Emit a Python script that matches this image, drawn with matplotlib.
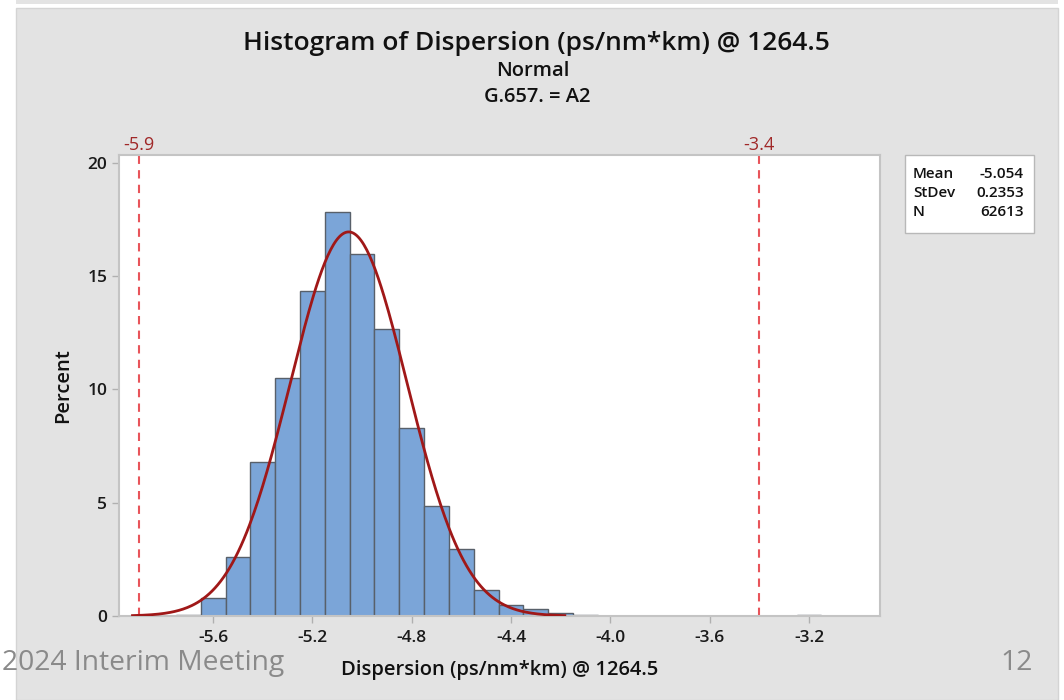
import numpy as np
import matplotlib
matplotlib.use("Agg")
import matplotlib.pyplot as plt
from matplotlib.patches import Rectangle

# histogram bins (centers, width 0.1) and percent of fibers in each bin
bin_centers = [-5.7, -5.6, -5.5, -5.4, -5.3, -5.2, -5.1, -5.0, -4.9, -4.8,
               -4.7, -4.6, -4.5, -4.4, -4.3, -4.2, -4.1, -4.0, -3.2]
percent = [0.05, 0.8, 2.6, 6.8, 10.5, 14.35, 17.85, 16.0, 12.65, 8.3,
           4.85, 2.95, 1.15, 0.5, 0.3, 0.12, 0.05, 0.02, 0.03]
bin_width = 0.1

mean = -5.054
stdev = 0.2353
n_obs = 62613
spec_limits = [-5.9, -3.4]

x_ticks = [-5.6, -5.2, -4.8, -4.4, -4.0, -3.6, -3.2]
y_ticks = [0, 5, 10, 15, 20]

plt.rcParams['font.family'] = ['Open Sans', 'DejaVu Sans']

W, H = 1064, 700
fig = plt.figure(figsize=(W / 100, H / 100), dpi=100, facecolor='white')

# slide background panels
fig.patches.append(Rectangle((16 / W, 0), (1058 - 16) / W, (700 - 8) / H,
                             transform=fig.transFigure, facecolor='#e3e3e3',
                             edgecolor='#d4d4d4', lw=1, zorder=-10))
fig.patches.append(Rectangle((16 / W, (700 - 4) / H), (1058 - 16) / W, 4 / H,
                             transform=fig.transFigure, facecolor='#e3e3e3',
                             edgecolor='none', zorder=-10))

left, right, top, bottom = 119, 880, 155, 616
ax = fig.add_axes([left / W, (H - bottom) / H, (right - left) / W, (bottom - top) / H])
ax.set_zorder(1)
ax.set_facecolor('white')

ax.bar(bin_centers, percent, width=bin_width, color='#7ba5d8',
       edgecolor='#58606a', linewidth=1.0, zorder=2)

# fitted normal curve
xs = np.linspace(mean - 3.7 * stdev, mean + 3.7 * stdev, 300)
pdf = np.exp(-0.5 * ((xs - mean) / stdev) ** 2) / (stdev * np.sqrt(2 * np.pi))
ax.plot(xs, pdf * bin_width * 100, color='#a01818', lw=2, zorder=3)

# spec limit lines
for lim in spec_limits:
    ax.axvline(lim, color='#e8545a', ls=(0, (4, 3)), lw=1.5, zorder=1)
    ax.text(lim, 20.4, f'{lim}', color='#a02828', fontsize=13,
            ha='center', va='bottom', clip_on=False)

ax.set_xlim(-5.979, -2.914)
ax.set_ylim(0, 20.35)
ax.set_xticks(x_ticks)
ax.set_xticklabels([f'{t:.1f}' for t in x_ticks])
ax.set_yticks(y_ticks)
ax.tick_params(axis='both', colors='#b0b0b0', labelcolor='#1a1a1a',
               length=5, width=1, labelsize=12.5)
ax.tick_params(axis='x', pad=5)
for lbl in ax.get_xticklabels() + ax.get_yticklabels():
    lbl.set_fontweight('semibold')
for sp in ax.spines.values():
    sp.set_color('#c4c4c4')
    sp.set_linewidth(1.5)

ax.set_xlabel('Dispersion (ps/nm*km) @ 1264.5', fontsize=14.5,
              fontweight='semibold', color='#111111', labelpad=10)
ax.set_ylabel('Percent', fontsize=14.5, fontweight='semibold',
              color='#111111', labelpad=10)

# titles
fig.text(536 / W, 1 - 44 / H, 'Histogram of Dispersion (ps/nm*km) @ 1264.5',
         ha='center', va='center', fontsize=19, fontweight='semibold', color='#111111')
fig.text(533 / W, 1 - 71 / H, 'Normal', ha='center', va='center',
         fontsize=14.5, fontweight='semibold', color='#111111')
fig.text(537 / W, 1 - 97 / H, 'G.657. = A2', ha='center', va='center',
         fontsize=14.5, fontweight='semibold', color='#111111')

# stats box
fig.patches.append(Rectangle((905 / W, (H - 233) / H), 129 / W, 78 / H,
                             transform=fig.transFigure, facecolor='white',
                             edgecolor='#b8b8b8', lw=1, zorder=1))
stats = [('Mean', f'{mean:.3f}'), ('StDev', f'{stdev:.4f}'), ('N', f'{n_obs}')]
for i, (k, v) in enumerate(stats):
    yy = 1 - (174 + i * 19) / H
    fig.text(913 / W, yy, k, ha='left', va='center', fontsize=11,
             fontweight='semibold', color='#111111', zorder=2)
    fig.text(1024 / W, yy, v, ha='right', va='center', fontsize=11,
             fontweight='semibold', color='#111111', zorder=2)

# slide footer
fig.text(2 / W, 1 - 663 / H, '2024 Interim Meeting', ha='left', va='center',
         fontsize=20.3, color='#8a8a8a')
fig.text(1033 / W, 1 - 663 / H, '12', ha='right', va='center',
         fontsize=20.3, color='#8a8a8a')

fig.savefig('out.png', dpi=100, facecolor='white')
